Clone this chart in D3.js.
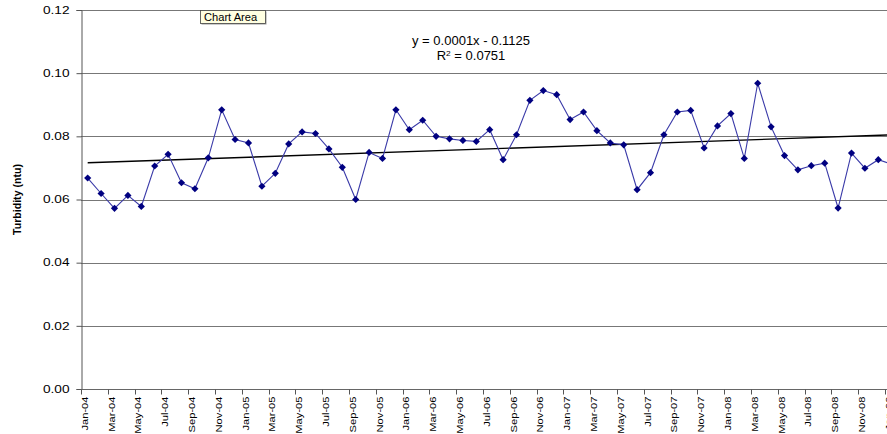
<!DOCTYPE html>
<html>
<head>
<meta charset="utf-8">
<script src="https://cdn.jsdelivr.net/npm/d3@7"></script>
<style>
  html, body { margin: 0; padding: 0; background: white; }
  #container { width: 887px; height: 434px; overflow: hidden; }
</style>
</head>
<body>
<div id="container"></div>
<script>
let months = ['Jan-04','Feb-04','Mar-04','Apr-04','May-04','Jun-04','Jul-04','Aug-04','Sep-04','Oct-04','Nov-04','Dec-04',
              'Jan-05','Feb-05','Mar-05','Apr-05','May-05','Jun-05','Jul-05','Aug-05','Sep-05','Oct-05','Nov-05','Dec-05',
              'Jan-06','Feb-06','Mar-06','Apr-06','May-06','Jun-06','Jul-06','Aug-06','Sep-06','Oct-06','Nov-06','Dec-06',
              'Jan-07','Feb-07','Mar-07','Apr-07','May-07','Jun-07','Jul-07','Aug-07','Sep-07','Oct-07','Nov-07','Dec-07',
              'Jan-08','Feb-08','Mar-08','Apr-08','May-08','Jun-08','Jul-08','Aug-08','Sep-08','Oct-08','Nov-08','Dec-08',
              'Jan-09'];

let turbidity = [0.0668, 0.0619, 0.0572, 0.0613, 0.0578, 0.0706, 0.0743, 0.0653, 0.0634, 0.0732,
                 0.0884, 0.0790, 0.0779, 0.0642, 0.0683, 0.0776, 0.0814, 0.0809, 0.0760, 0.0702,
                 0.0600, 0.0749, 0.0730, 0.0884, 0.0821, 0.0851, 0.0800, 0.0792, 0.0787, 0.0784,
                 0.0821, 0.0726, 0.0805, 0.0914, 0.0945, 0.0932, 0.0853, 0.0877, 0.0818, 0.0779,
                 0.0773, 0.0631, 0.0685, 0.0805, 0.0877, 0.0882, 0.0763, 0.0833, 0.0872, 0.0730,
                 0.0968, 0.0830, 0.0739, 0.0694, 0.0707, 0.0715, 0.0573, 0.0747, 0.0699, 0.0726,
                 0.0712];

let yTicks = [0, 0.02, 0.04, 0.06, 0.08, 0.10, 0.12];

let eqText = 'y = 0.0001x - 0.1125';
let r2Value = '0.0751';

let w = 887,
    h = 434;

let plotLeft = 81,
    plotTop = 10,
    plotBottom = 389,
    step = 13.4;

let viz = d3.select('#container')
    .append('svg')
      .attr('width', w)
      .attr('height', h)
      .style('background', 'white')
;

function main() {
    let x = d3.scaleBand()
        .domain(months)
        .range([plotLeft, plotLeft + step * months.length])
        .padding(0);

    let y = d3.scaleLinear()
        .domain([0, 0.12])
        .range([plotBottom, plotTop]);

    let cx = m => x(m) + x.bandwidth() / 2;

    // gridlines
    viz.append('g')
        .selectAll('line')
        .data(yTicks.filter(d => d > 0))
        .enter()
          .append('line')
            .attr('x1', plotLeft)
            .attr('x2', w)
            .attr('y1', d => Math.round(y(d)) + 0.5)
            .attr('y2', d => Math.round(y(d)) + 0.5)
            .attr('stroke', '#777')
            .attr('stroke-width', 1);

    // y axis
    let yAxis = viz.append('g')
        .attr('transform', 'translate(' + (plotLeft + 0.5) + ',0)')
        .call(d3.axisLeft(y).tickValues(yTicks).tickSize(5).tickFormat(''));
    yAxis.select('.domain').attr('stroke', '#555');
    yAxis.selectAll('.tick line').attr('stroke', '#555');

    viz.append('g')
        .selectAll('text')
        .data(yTicks)
        .enter()
          .append('text')
            .attr('transform', d => 'translate(69.5,' + (y(d) + 3.7) + ') scale(1.34,1)')
            .attr('text-anchor', 'end')
            .attr('font-family', 'Liberation Sans, Arial, sans-serif')
            .attr('font-size', 10.2)
            .attr('fill', '#000')
            .text(d3.format('.2f'));

    // x axis
    let labelled = months.filter((m, i) => i % 2 == 0);
    let xAxis = viz.append('g')
        .attr('transform', 'translate(0,' + (plotBottom + 0.5) + ')');
    xAxis.append('line')
        .attr('x1', plotLeft)
        .attr('x2', w)
        .attr('stroke', '#666');
    xAxis.selectAll('.xt')
        .data(labelled)
        .enter()
          .append('line')
            .attr('class', 'xt')
            .attr('x1', m => Math.round(x(m)) + 0.5)
            .attr('x2', m => Math.round(x(m)) + 0.5)
            .attr('y1', 0)
            .attr('y2', 5)
            .attr('stroke', '#555');
    xAxis.selectAll('text')
        .data(labelled)
        .enter()
          .append('text')
            .attr('transform', m => 'translate(' + cx(m) + ',7) rotate(-90) scale(1.24,1)')
            .attr('text-anchor', 'end')
            .attr('font-family', 'Liberation Sans, Arial, sans-serif')
            .attr('font-size', 9)
            .attr('fill', '#000')
            .text(m => m);

    // y axis title
    viz.append('text')
        .attr('transform', 'translate(21,' + ((plotTop + plotBottom) / 2) + ') rotate(-90)')
        .attr('text-anchor', 'middle')
        .attr('font-family', 'Liberation Sans, Arial, sans-serif')
        .attr('font-weight', 'bold')
        .attr('font-size', 10.6)
        .text('Turbidity (ntu)');

    // linear trend (least squares on month index)
    let n = turbidity.length;
    let idx = d3.range(n);
    let mx = d3.mean(idx), my = d3.mean(turbidity);
    let slope = d3.sum(idx, i => (i - mx) * (turbidity[i] - my)) / d3.sum(idx, i => (i - mx) * (i - mx));
    let icpt = my - slope * mx;
    viz.append('line')
        .attr('x1', cx(months[0]))
        .attr('y1', y(icpt))
        .attr('x2', cx(months[n - 1]))
        .attr('y2', y(icpt + slope * (n - 1)))
        .attr('stroke', '#000')
        .attr('stroke-width', 1.4);

    // series
    let line = d3.line()
        .x((d, i) => cx(months[i]))
        .y(d => y(d));
    viz.append('path')
        .datum(turbidity)
        .attr('d', line)
        .attr('fill', 'none')
        .attr('stroke', '#3a3aa8')
        .attr('stroke-width', 1.1);

    viz.append('g')
        .selectAll('path')
        .data(turbidity)
        .enter()
          .append('path')
            .attr('d', (d, i) => {
                let px = cx(months[i]), py = y(d), r = 3.6;
                return 'M' + px + ',' + (py - r) + 'L' + (px + r) + ',' + py + 'L' + px + ',' + (py + r) + 'L' + (px - r) + ',' + py + 'Z';
            })
            .attr('fill', '#000080');

    // trend equation
    let eq = viz.append('g')
        .attr('font-family', 'Liberation Sans, Arial, sans-serif')
        .attr('font-size', 12.4)
        .attr('fill', '#000')
        .attr('text-anchor', 'middle');
    eq.append('text')
        .attr('transform', 'translate(471,45) scale(1.05,1)')
        .text(eqText);
    let r2 = eq.append('text')
        .attr('transform', 'translate(471,59.5) scale(1.05,1)');
    r2.append('tspan').text('R');
    r2.append('tspan').attr('baseline-shift', 'super').attr('font-size', 8).text('2');
    r2.append('tspan').text(' = ' + r2Value);

    // tooltip
    viz.append('rect')
        .attr('x', 201.5)
        .attr('y', 11.5)
        .attr('width', 65)
        .attr('height', 13)
        .attr('fill', '#999');
    viz.append('rect')
        .attr('x', 200.5)
        .attr('y', 10.5)
        .attr('width', 65)
        .attr('height', 13)
        .attr('fill', '#ffffe1')
        .attr('stroke', '#444')
        .attr('stroke-width', 0.8);
    viz.append('text')
        .attr('transform', 'translate(204,20.8) scale(1.05,1)')
        .attr('font-family', 'Liberation Sans, Arial, sans-serif')
        .attr('font-size', 10.6)
        .text('Chart Area');
}

main();
</script>
</body>
</html>
